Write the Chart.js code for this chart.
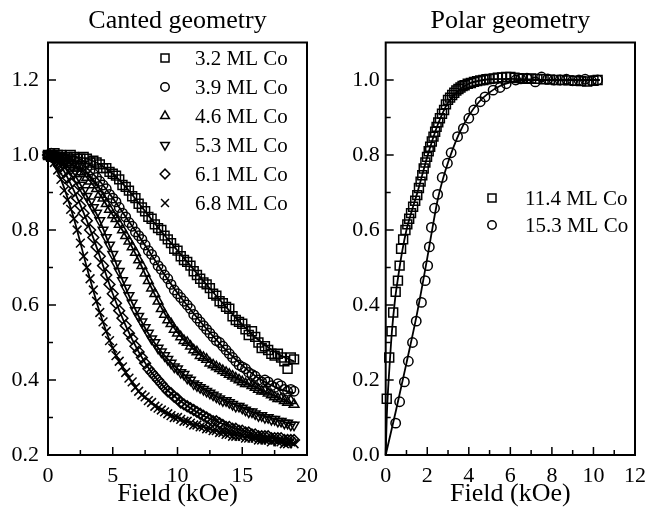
<!DOCTYPE html>
<html>
<head>
<meta charset="utf-8">
<script src="https://cdn.jsdelivr.net/npm/chart.js@4.4.1/dist/chart.umd.min.js"></script>
<style>
  html, body { margin: 0; padding: 0; background: #fff; }
  #wrap { position: relative; width: 654px; height: 510px; }
  #wrap canvas { position: absolute; left: 0; top: 0; }
</style>
</head>
<body>
<div id="wrap">
  <canvas id="canted" width="654" height="510"></canvas>
  <canvas id="polar" width="654" height="510"></canvas>
</div>
<script>
// ---- Canted geometry (left panel), field in kOe, 0.25 kOe steps ----
const fieldCanted = [
    0,0.25,0.5,0.75, 1,1.25,1.5,1.75, 2,2.25,2.5,2.75, 3,3.25,3.5,3.75,
    4,4.25,4.5,4.75, 5,5.25,5.5,5.75, 6,6.25,6.5,6.75, 7,7.25,7.5,7.75,
    8,8.25,8.5,8.75, 9,9.25,9.5,9.75, 10,10.25,10.5,10.75, 11,11.25,11.5,11.75,
    12,12.25,12.5,12.75, 13,13.25,13.5,13.75, 14,14.25,14.5,14.75, 15,15.25,15.5,15.75,
    16,16.25,16.5,16.75, 17,17.25,17.5,17.75, 18,18.25,18.5,18.75, 19];
const ml32 = [
    1.00,0.995,1.005,1.0, 1.00,0.99,0.995,1.0, 0.995,0.99,0.99,0.995, 0.99,0.98,0.985,0.98,
    0.975,0.965,0.965,0.955, 0.95,0.945,0.935,0.92, 0.915,0.905,0.89,0.885, 0.87,0.86,0.85,0.835,
    0.83,0.815,0.805,0.80, 0.785,0.775,0.765,0.75, 0.745,0.73,0.72,0.715, 0.705,0.69,0.68,0.67,
    0.66,0.655,0.645,0.63, 0.625,0.61,0.605,0.595, 0.59,0.57,0.56,0.555, 0.55,0.535,0.52,0.53,
    0.515,0.50,0.485,0.49, 0.48,0.47,0.465,0.47, 0.46,0.45,0.43,0.46, 0.455];
const ml39 = [
    1.0,1.005,1.0,0.995, 0.995,0.99,0.99,0.99, 0.985,0.98,0.975,0.97, 0.965,0.96,0.95,0.94,
    0.93,0.92,0.91,0.895, 0.885,0.875,0.86,0.845, 0.835,0.82,0.81,0.795, 0.785,0.775,0.76,0.745,
    0.735,0.72,0.705,0.695, 0.68,0.67,0.655,0.64, 0.63,0.62,0.61,0.60, 0.59,0.575,0.565,0.555,
    0.545,0.535,0.525,0.515, 0.505,0.50,0.49,0.48, 0.47,0.46,0.45,0.44, 0.435,0.43,0.42,0.415,
    0.41,0.40,0.395,0.40, 0.395,0.385,0.38,0.39, 0.385,0.375,0.37,0.375, 0.37];
const ml46 = [
    1.0,0.995,0.995,0.99, 0.99,0.985,0.98,0.975, 0.97,0.965,0.955,0.95, 0.94,0.93,0.92,0.91,
    0.895,0.885,0.87,0.855, 0.84,0.83,0.815,0.80, 0.785,0.77,0.755,0.74, 0.72,0.705,0.685,0.665,
    0.645,0.63,0.61,0.59, 0.575,0.56,0.55,0.535, 0.525,0.515,0.505,0.50, 0.49,0.48,0.475,0.465,
    0.46,0.455,0.445,0.44, 0.435,0.43,0.425,0.42, 0.415,0.41,0.405,0.40, 0.395,0.39,0.39,0.385,
    0.38,0.375,0.37,0.37, 0.365,0.36,0.355,0.35, 0.35,0.345,0.34,0.345, 0.335];
const ml53 = [
    1.0,1.0,0.995,0.99, 0.985,0.98,0.97,0.96, 0.95,0.935,0.92,0.905, 0.89,0.875,0.86,0.845,
    0.825,0.80,0.78,0.76, 0.735,0.71,0.69,0.665, 0.645,0.625,0.605,0.585, 0.57,0.555,0.54,0.525,
    0.51,0.50,0.485,0.475, 0.465,0.455,0.445,0.435, 0.43,0.42,0.415,0.405, 0.40,0.39,0.385,0.38,
    0.375,0.37,0.365,0.36, 0.355,0.35,0.345,0.345, 0.34,0.335,0.33,0.33, 0.325,0.32,0.315,0.315,
    0.31,0.305,0.305,0.30, 0.30,0.295,0.295,0.29, 0.29,0.285,0.285,0.28, 0.28];
const ml61 = [
    1.0,0.995,0.99,0.98, 0.97,0.955,0.94,0.925, 0.905,0.885,0.865,0.845, 0.825,0.80,0.78,0.755,
    0.73,0.705,0.68,0.655, 0.63,0.605,0.585,0.565, 0.545,0.525,0.51,0.49, 0.475,0.46,0.445,0.43,
    0.42,0.41,0.40,0.39, 0.38,0.37,0.365,0.355, 0.35,0.34,0.335,0.33, 0.325,0.32,0.315,0.31,
    0.305,0.30,0.295,0.29, 0.29,0.285,0.28,0.275, 0.275,0.27,0.27,0.265, 0.265,0.26,0.26,0.255,
    0.255,0.25,0.25,0.25, 0.25,0.245,0.245,0.245, 0.245,0.24,0.24,0.24, 0.24];
const ml68 = [
    1.0,0.995,0.98,0.96, 0.935,0.905,0.88,0.855, 0.83,0.80,0.765,0.73, 0.70,0.67,0.64,0.61,
    0.58,0.555,0.53,0.505, 0.485,0.465,0.45,0.435, 0.42,0.405,0.395,0.38, 0.37,0.36,0.355,0.345,
    0.34,0.33,0.325,0.32, 0.315,0.31,0.305,0.30, 0.30,0.295,0.29,0.29, 0.285,0.28,0.28,0.275,
    0.275,0.27,0.27,0.265, 0.265,0.26,0.26,0.255, 0.255,0.25,0.25,0.25, 0.25,0.245,0.245,0.245,
    0.245,0.24,0.24,0.24, 0.24,0.235,0.24,0.235, 0.235,0.23,0.23,0.235, 0.23];

// fitted curves (solid lines)
const fitFieldCanted = [0,1,2,3,4,5,6,7,8,9,10,11,12,13,14,15,16,17,18,19];
const fit32 = [1.0,1.0,0.995,0.99,0.975,0.95,0.915,0.872,0.828,0.786,0.745,0.705,0.664,0.624,0.585,0.548,0.514,0.487,0.465,0.45];
const fit39 = [1.0,0.995,0.985,0.965,0.93,0.885,0.835,0.785,0.733,0.681,0.632,0.588,0.546,0.507,0.471,0.439,0.411,0.39,0.375,0.365];
const fit46 = [1.0,0.99,0.97,0.94,0.895,0.84,0.785,0.72,0.645,0.578,0.527,0.49,0.461,0.436,0.415,0.397,0.381,0.365,0.35,0.336];
const fit53 = [1.0,0.985,0.95,0.89,0.825,0.735,0.645,0.57,0.51,0.465,0.43,0.40,0.376,0.356,0.34,0.326,0.311,0.30,0.29,0.281];
const fit61 = [1.0,0.97,0.905,0.825,0.73,0.63,0.545,0.475,0.42,0.38,0.35,0.325,0.305,0.29,0.276,0.265,0.255,0.249,0.244,0.24];
const fit68 = [1.0,0.935,0.83,0.70,0.58,0.485,0.42,0.37,0.34,0.315,0.30,0.285,0.275,0.265,0.256,0.25,0.245,0.24,0.235,0.23];

const cantedLabels = ['3.2 ML Co','3.9 ML Co','4.6 ML Co','5.3 ML Co','6.1 ML Co','6.8 ML Co'];
const cantedXMajor = [0,5,10,15,20];
const cantedXMinor = [2.5,7.5,12.5,17.5];
const cantedYMajor = [0.2,0.4,0.6,0.8,1.0,1.2];
const cantedYMinor = [0.3,0.5,0.7,0.9,1.1];

// ---- Polar geometry (right panel) ----
const field114 = [0.05,0.17,0.28,0.36,0.48,0.59,0.67,0.74,0.84,0.95,1.04,1.13,1.22,1.32,1.42,1.52,1.6,1.68,1.76,1.83,1.91,1.99,2.07,2.14,2.22,2.3,2.38,2.45,2.53,2.61,2.71,2.81,2.9,3.0,3.1,3.2,3.3,3.4,3.5,3.6,3.7,3.8,3.95,4.1,4.25,4.4,4.55,4.7,4.85,5.0,5.2,5.4,5.6,5.8,6.0,6.2,6.4,6.6,6.8,7.0,7.3,7.6,7.9,8.2,8.5,8.8,9.1,9.4,9.7,10.0,10.2];
const ml114 = [0.15,0.26,0.33,0.38,0.435,0.465,0.505,0.55,0.575,0.60,0.615,0.63,0.645,0.662,0.678,0.693,0.712,0.729,0.746,0.764,0.78,0.795,0.81,0.822,0.836,0.849,0.862,0.875,0.887,0.898,0.91,0.92,0.935,0.947,0.953,0.96,0.966,0.972,0.976,0.98,0.984,0.986,0.99,0.992,0.995,0.997,0.999,1.0,1.002,1.003,1.004,1.006,1.007,1.008,1.008,1.006,1.005,1.004,1.003,1.004,1.003,1.002,1.001,1.0,1.0,0.999,0.998,0.997,0.996,0.998,1.0];
const field153 = [0.48,0.67,0.9,1.09,1.29,1.47,1.72,1.9,2.02,2.1,2.2,2.35,2.5,2.72,2.97,3.15,3.46,3.74,4.0,4.24,4.55,4.78,5.17,5.5,5.8,6.26,6.5,6.8,7.2,7.5,7.8,8.1,8.4,8.7,9.0,9.3,9.6,9.9,10.2];
const ml153 = [0.085,0.142,0.195,0.25,0.30,0.357,0.407,0.465,0.505,0.555,0.607,0.658,0.695,0.74,0.778,0.806,0.849,0.871,0.898,0.92,0.942,0.955,0.973,0.98,0.99,1.0,1.003,1.005,0.995,1.008,1.003,1.0,1.0,1.002,0.998,1.0,1.002,0.998,1.0];

const fitField114 = [0,0.05,0.1,0.2,0.3,0.45,0.6,0.8,1.0,1.25,1.5,1.75,2.0,2.25,2.5,2.75,3.0,3.5,4.0,4.5,5.0,6.0,8.0,10.3];
const fit114 = [0,0.1,0.16,0.25,0.33,0.415,0.475,0.545,0.6,0.65,0.695,0.745,0.795,0.84,0.88,0.913,0.94,0.972,0.99,0.998,1.002,1.003,1.0,1.0];
const fitField153 = [0,0.5,1.0,1.5,2.0,2.25,2.5,2.75,3.0,3.5,4.0,4.5,5.0,5.5,6.0,7.0,8.0,10.3];
const fit153 = [0,0.12,0.245,0.375,0.525,0.605,0.68,0.735,0.78,0.853,0.905,0.942,0.967,0.984,0.994,1.0,1.0,1.0];

const polarLabels = ['11.4 ML Co','15.3 ML Co'];
const polarXMajor = [0,2,4,6,8,10,12];
const polarXMinor = [1,3,5,7,9,11];
const polarYMajor = [0,0.2,0.4,0.6,0.8,1.0];
const polarYMinor = [0.1,0.3,0.5,0.7,0.9];

const SERIF = '"Liberation Serif", "DejaVu Serif", serif';
Chart.defaults.font.family = SERIF;
Chart.defaults.color = '#000';

const pairs = (xs, ys) => xs.map((x, i) => ({ x, y: ys[i] }));

const markerSet = (label, xs, ys, style, radius, rotation = 0) => ({
    label,
    data: pairs(xs, ys),
    showLine: false,
    pointStyle: style,
    pointRadius: radius,
    pointRotation: rotation,
    pointBorderWidth: 1.5,
    pointBorderColor: '#000',
    pointBackgroundColor: 'rgba(0,0,0,0)',
    clip: false
});

const fitSet = (xs, ys) => ({
    data: pairs(xs, ys),
    showLine: true,
    borderColor: '#000',
    borderWidth: 1.8,
    pointRadius: 0,
    cubicInterpolationMode: 'monotone',
    clip: false
});

// frame, inward ticks, titles and in-plot legend
const panelDecor = {
    id: 'panelDecor',
    afterDraw(chart, args, o) {
        const { ctx, chartArea: a, scales: { x, y } } = chart;
        ctx.save();
        ctx.strokeStyle = '#000';
        ctx.lineWidth = 1.5;
        ctx.beginPath();
        const xTick = (v, len) => {
            const px = x.getPixelForValue(v);
            ctx.moveTo(px, a.bottom); ctx.lineTo(px, a.bottom - len);
        };
        const yTick = (v, len) => {
            const py = y.getPixelForValue(v);
            ctx.moveTo(a.left, py); ctx.lineTo(a.left + len, py);
        };
        o.xMajor.forEach(v => xTick(v, 8));
        o.xMinor.forEach(v => xTick(v, 5));
        o.yMajor.forEach(v => yTick(v, 8));
        o.yMinor.forEach(v => yTick(v, 5));
        ctx.stroke();

        ctx.lineWidth = 2;
        ctx.strokeRect(a.left, a.top, a.right - a.left, a.bottom - a.top);

        const cx = (a.left + a.right) / 2;
        ctx.fillStyle = '#000';
        ctx.textAlign = 'center';
        ctx.textBaseline = 'alphabetic';
        ctx.font = '26px ' + SERIF;
        ctx.fillText(o.title, cx, 28);
        ctx.fillText('Field (kOe)', cx, 501);

        ctx.font = '21px ' + SERIF;
        ctx.textAlign = 'left';
        ctx.textBaseline = 'middle';
        let row = 0;
        chart.data.datasets.forEach(ds => {
            if (!ds.label) return;
            const yy = o.legend.y + row * o.legend.dy;
            ctx.lineWidth = ds.pointBorderWidth;
            ctx.strokeStyle = '#000';
            ctx.fillStyle = 'rgba(0,0,0,0)';
            Chart.helpers.drawPoint(ctx, {
                pointStyle: ds.pointStyle,
                rotation: ds.pointRotation || 0,
                radius: ds.pointRadius * 0.9,
                borderWidth: ds.pointBorderWidth
            }, o.legend.markerX, yy);
            ctx.fillStyle = '#000';
            ctx.fillText(ds.label, o.legend.textX, yy + 1);
            row++;
        });
        ctx.restore();
    }
};

function makePanel(id, cfg) {
    return new Chart(document.getElementById(id), {
        type: 'scatter',
        data: { datasets: cfg.datasets },
        options: {
            responsive: false,
            animation: false,
            events: [],
            layout: { padding: { left: 0, right: cfg.padRight, top: 42.5, bottom: 0 } },
            plugins: {
                legend: { display: false },
                tooltip: { enabled: false },
                panelDecor: cfg.decor
            },
            scales: {
                x: {
                    type: 'linear', min: cfg.xMin, max: cfg.xMax,
                    afterBuildTicks: s => { s.ticks = cfg.decor.xMajor.map(v => ({ value: v })); },
                    afterFit: s => { s.height = 55; },
                    grid: { display: false, drawTicks: false },
                    border: { display: false },
                    ticks: { padding: 8, font: { size: 22 }, maxRotation: 0, callback: v => String(v) }
                },
                y: {
                    type: 'linear', min: cfg.yMin, max: cfg.yMax,
                    afterBuildTicks: s => { s.ticks = cfg.decor.yMajor.map(v => ({ value: v })); },
                    afterFit: s => { s.width = cfg.yAxisWidth; },
                    grid: { display: false, drawTicks: false },
                    border: { display: false },
                    ticks: { padding: cfg.yPad, font: { size: 22 }, callback: v => v.toFixed(1) }
                }
            }
        },
        plugins: [panelDecor]
    });
}

makePanel('canted', {
    xMin: 0, xMax: 20, yMin: 0.2, yMax: 1.3,
    padRight: 347, yAxisWidth: 48, yPad: 9,
    decor: {
        title: 'Canted geometry',
        xMajor: cantedXMajor, xMinor: cantedXMinor,
        yMajor: cantedYMajor, yMinor: cantedYMinor,
        legend: { markerX: 165, textX: 195, y: 58, dy: 29 }
    },
    datasets: [
        markerSet(cantedLabels[0], fieldCanted, ml32, 'rect', 6.3),
        markerSet(cantedLabels[1], fieldCanted, ml39, 'circle', 4.7),
        markerSet(cantedLabels[2], fieldCanted, ml46, 'triangle', 5.6),
        markerSet(cantedLabels[3], fieldCanted, ml53, 'triangle', 5.6, 180),
        markerSet(cantedLabels[4], fieldCanted, ml61, 'rectRot', 5.4),
        markerSet(cantedLabels[5], fieldCanted, ml68, 'crossRot', 6.2),
        fitSet(fitFieldCanted, fit32),
        fitSet(fitFieldCanted, fit39),
        fitSet(fitFieldCanted, fit46),
        fitSet(fitFieldCanted, fit53),
        fitSet(fitFieldCanted, fit61),
        fitSet(fitFieldCanted, fit68)
    ]
});

makePanel('polar', {
    xMin: 0, xMax: 12, yMin: 0, yMax: 1.1,
    padRight: 11, yAxisWidth: 385.7, yPad: 6,
    decor: {
        title: 'Polar geometry',
        xMajor: polarXMajor, xMinor: polarXMinor,
        yMajor: polarYMajor, yMinor: polarYMinor,
        legend: { markerX: 492, textX: 525, y: 198, dy: 27 }
    },
    datasets: [
        markerSet(polarLabels[0], field114, ml114, 'rect', 6.3),
        markerSet(polarLabels[1], field153, ml153, 'circle', 4.7),
        fitSet(fitField114, fit114),
        fitSet(fitField153, fit153)
    ]
});
</script>
</body>
</html>
